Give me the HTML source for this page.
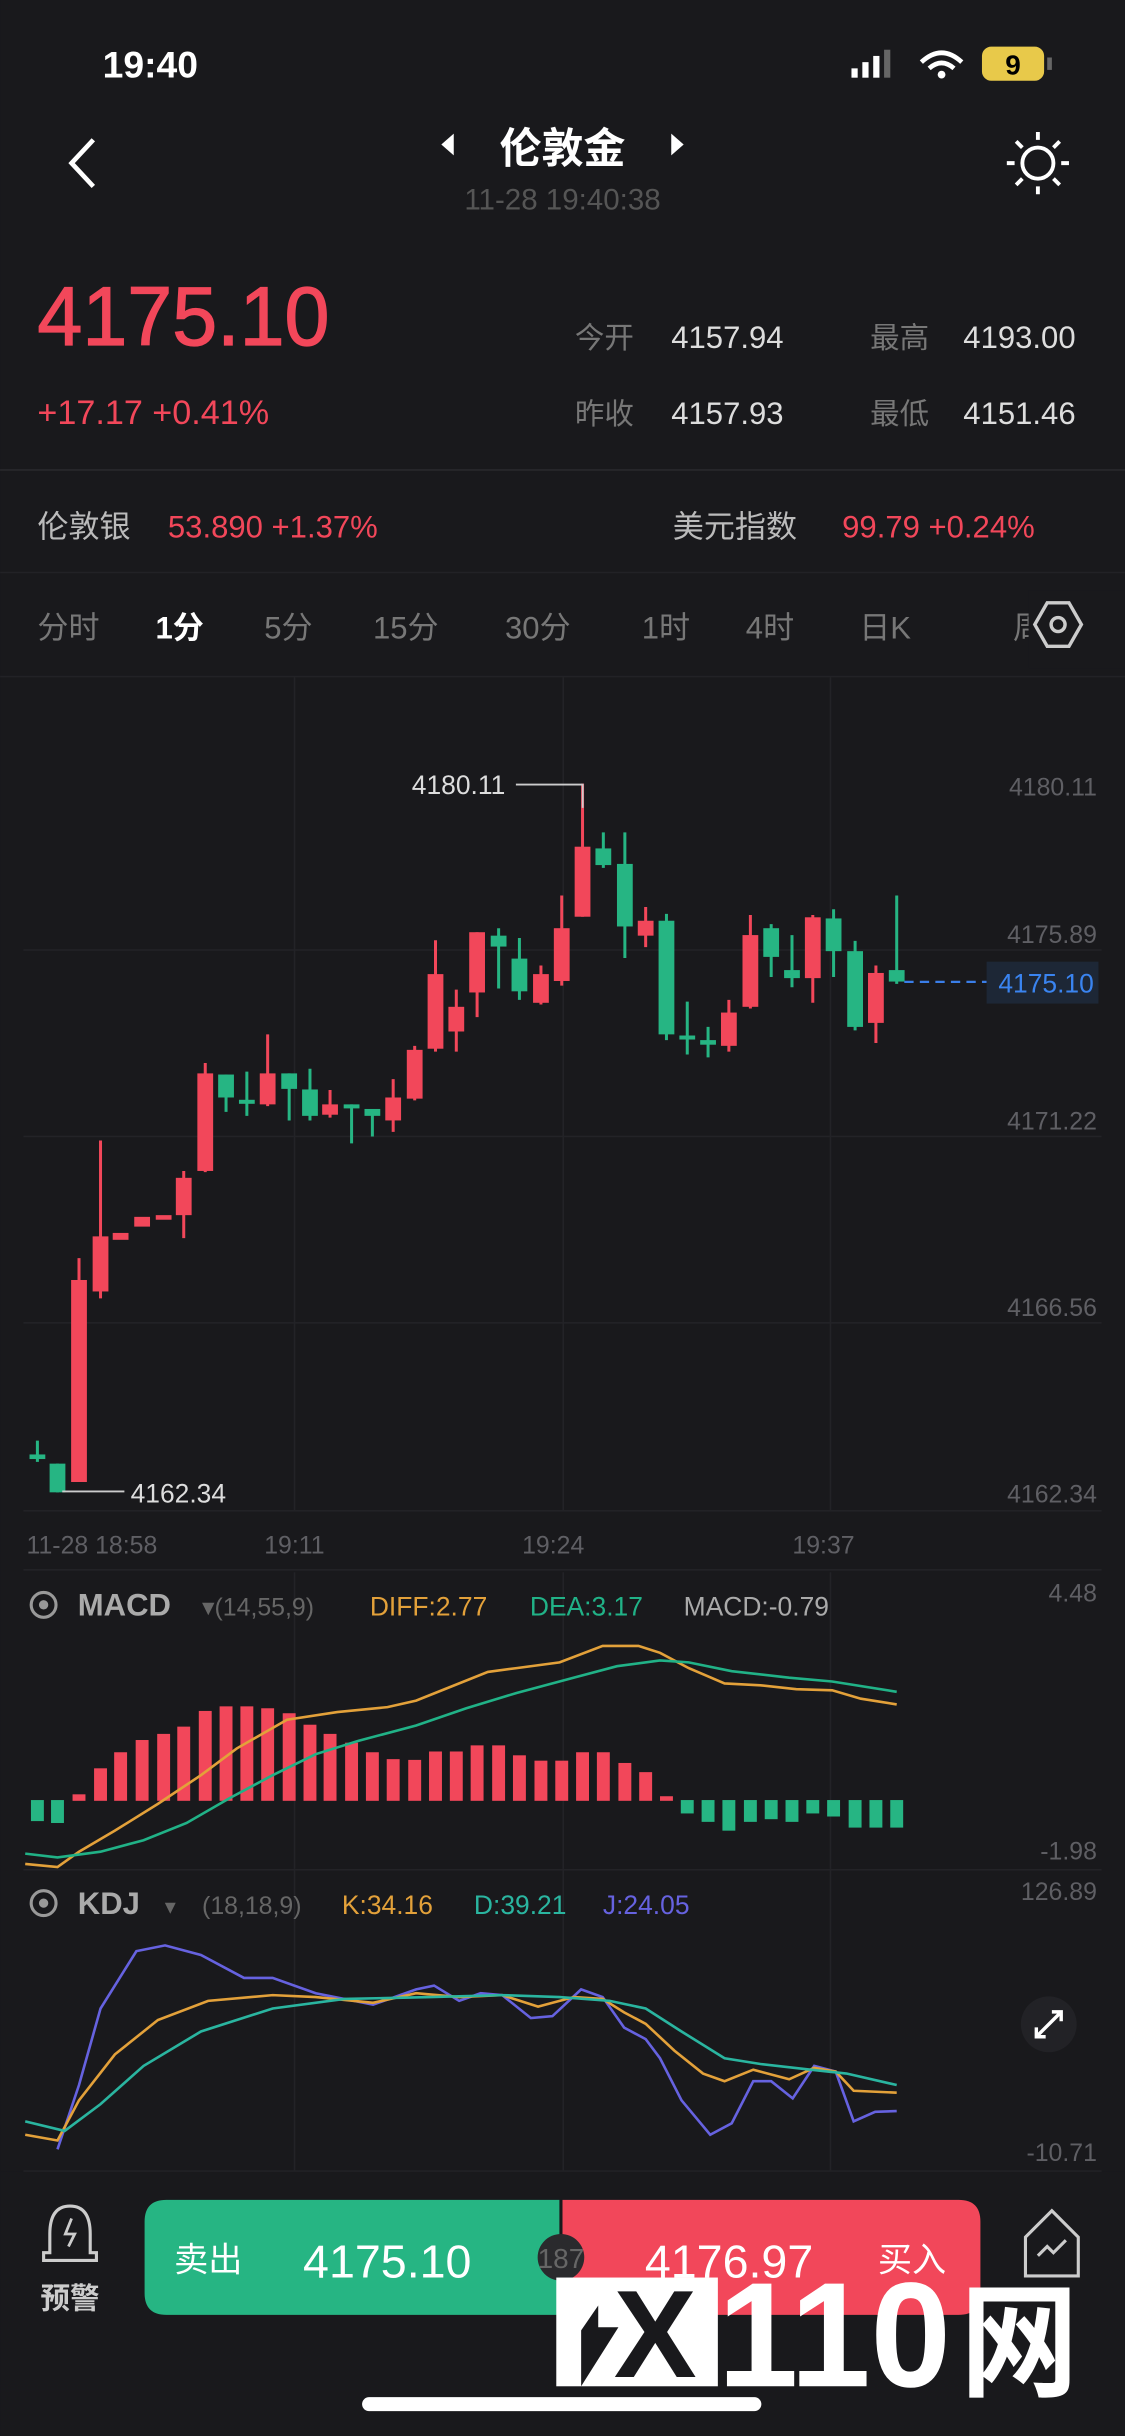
<!DOCTYPE html>
<html><head><meta charset="utf-8"><style>
html,body{margin:0;padding:0;background:#19191c;}
svg{display:block;}
text{font-family:"Liberation Sans","Noto Sans CJK SC",sans-serif;}
</style></head><body>
<svg width="1125" height="2436" viewBox="0 0 724 1568" xmlns="http://www.w3.org/2000/svg">
<rect width="724" height="1568" fill="#19191c"/>
<!-- status bar -->
<text x="66" y="50" font-size="24" font-weight="bold" fill="#fff">19:40</text>
<rect x="548" y="44" width="4" height="6" fill="#fff"/><rect x="555" y="40" width="4" height="10" fill="#fff"/><rect x="562" y="36" width="4" height="14" fill="#fff"/><rect x="569" y="32" width="4" height="18" fill="#666"/>
<path d="M593 40 Q606 28 619 40" stroke="#fff" stroke-width="3" fill="none"/><path d="M598 44 Q606 37 614 44" stroke="#fff" stroke-width="3" fill="none"/><circle cx="606" cy="48" r="2.5" fill="#fff"/>
<rect x="632" y="30" width="40" height="22" rx="6" fill="#e8c94a"/><text x="652" y="48" font-size="18" font-weight="bold" fill="#000" text-anchor="middle">9</text><rect x="674" y="37" width="3" height="8" fill="#666"/>
<!-- header -->
<path d="M60 90 L46 105 L60 120" stroke="#fff" stroke-width="3" fill="none"/>
<text x="362" y="105" font-size="27" font-weight="bold" fill="#fff" text-anchor="middle">伦敦金</text>
<path d="M292 86 L284 93 L292 100Z M432 86 L440 93 L432 100Z" fill="#fff"/>
<text x="362" y="135" font-size="19" fill="#555" text-anchor="middle">11-28 19:40:38</text>
<circle cx="668" cy="105" r="10" stroke="#fff" stroke-width="2.5" fill="none"/>
<g stroke="#fff" stroke-width="2.5"><path d="M668 85v5M668 120v5M648 105h5M683 105h5M654 91l4 4M678 115l4 4M654 119l4-4M678 95l4-4"/></g>
<!-- price -->
<text x="24" y="222" font-size="54" fill="#f2475a" stroke="#f2475a" stroke-width="0.8" textLength="188" lengthAdjust="spacingAndGlyphs">4175.10</text>
<text x="24" y="273" font-size="22" fill="#f2475a">+17.17  +0.41%</text>
<text x="370" y="224" font-size="19" fill="#777">今开</text><text x="432" y="224" font-size="20" fill="#ddd">4157.94</text>
<text x="560" y="224" font-size="19" fill="#777">最高</text><text x="620" y="224" font-size="20" fill="#ddd">4193.00</text>
<text x="370" y="273" font-size="19" fill="#777">昨收</text><text x="432" y="273" font-size="20" fill="#ddd">4157.93</text>
<text x="560" y="273" font-size="19" fill="#777">最低</text><text x="620" y="273" font-size="20" fill="#ddd">4151.46</text>
<rect x="0" y="302" width="724" height="1" fill="#2a2a2e"/>
<text x="24" y="346" font-size="20" fill="#bbb">伦敦银</text><text x="108" y="346" font-size="20" fill="#f2475a">53.890  +1.37%</text>
<text x="433" y="346" font-size="20" fill="#bbb">美元指数</text><text x="542" y="346" font-size="20" fill="#f2475a">99.79  +0.24%</text>
<rect x="0" y="368" width="724" height="1" fill="#222226"/>
<g font-size="20" fill="#777"><text x="24" y="411">分时</text><text x="100" y="411" fill="#fff" font-weight="bold">1分</text><text x="170" y="411">5分</text><text x="240" y="411">15分</text><text x="325" y="411">30分</text><text x="413" y="411">1时</text><text x="480" y="411">4时</text><text x="553" y="411">日K</text><text x="652" y="411">周</text></g>
<rect x="662" y="380" width="62" height="50" fill="#19191c"/>
<path d="M674 388 L688 388 L696 402 L688 416 L674 416 L666 402Z" stroke="#ccc" stroke-width="2.2" fill="none"/><circle cx="681" cy="402" r="4.5" stroke="#ccc" stroke-width="2.2" fill="none"/>
<rect x="0" y="435" width="724" height="1" fill="#222226"/>
<!-- grid -->
<g fill="#232327"><rect x="15" y="611" width="694" height="1"/><rect x="15" y="731" width="694" height="1"/><rect x="15" y="851" width="694" height="1"/><rect x="15" y="972" width="694" height="1"/>
<rect x="189" y="436" width="1" height="536"/><rect x="362" y="436" width="1" height="536"/><rect x="534" y="436" width="1" height="536"/>
<rect x="189" y="1012" width="1" height="385"/><rect x="362" y="1012" width="1" height="385"/><rect x="534" y="1012" width="1" height="385"/>
<rect x="15" y="1010" width="694" height="1"/><rect x="15" y="1203" width="694" height="1"/><rect x="15" y="1397" width="694" height="1"/></g>
<g font-size="16" fill="#5f5f64" text-anchor="end"><text x="706" y="512">4180.11</text><text x="706" y="607">4175.89</text><text x="706" y="727">4171.22</text><text x="706" y="847">4166.56</text><text x="706" y="967">4162.34</text>
<text x="706" y="1031">4.48</text><text x="706" y="1197">-1.98</text><text x="706" y="1223">126.89</text><text x="706" y="1391">-10.71</text></g>
<g font-size="16" fill="#5f5f64"><text x="17" y="1000">11-28 18:58</text><text x="170" y="1000">19:11</text><text x="336" y="1000">19:24</text><text x="510" y="1000">19:37</text></g>
<!-- candles in zoom coords -->
<g transform="translate(0,418.3) scale(0.4617,0.3694)">
<g fill="#f2475a" stroke="#f2475a">
<path d="M110 1060V1450M140 855V1130M256 908V1025M286 720V910M373 670V795M460 767V815M548 748V840M578 690V785M607 506V700M636 592V700M665 492V640M754 550V618M783 428V585M812 233V465M900 448V518M1016 610V700M1046 462V625M1133 462V615M1221 550V685" stroke-width="3" vector-effect="non-scaling-stroke"/>
<rect x="99" y="1098" width="22" height="352" stroke="none"/><rect x="129" y="1022" width="22" height="96" stroke="none"/><rect x="157" y="1016" width="22" height="12" stroke="none"/><rect x="187" y="988" width="22" height="17" stroke="none"/><rect x="217" y="985" width="22" height="8" stroke="none"/><rect x="245" y="920" width="22" height="65" stroke="none"/><rect x="275" y="738" width="22" height="170" stroke="none"/><rect x="362" y="738" width="22" height="54" stroke="none"/><rect x="449" y="792" width="22" height="18" stroke="none"/><rect x="537" y="780" width="22" height="40" stroke="none"/><rect x="567" y="697" width="22" height="85" stroke="none"/><rect x="596" y="565" width="22" height="130" stroke="none"/><rect x="625" y="622" width="22" height="43" stroke="none"/><rect x="654" y="492" width="22" height="105" stroke="none"/><rect x="743" y="565" width="22" height="50" stroke="none"/><rect x="772" y="485" width="22" height="92" stroke="none"/><rect x="801" y="343" width="22" height="122" stroke="none"/><rect x="889" y="472" width="22" height="26" stroke="none"/><rect x="1005" y="632" width="22" height="58" stroke="none"/><rect x="1035" y="497" width="22" height="125" stroke="none"/><rect x="1122" y="466" width="22" height="106" stroke="none"/><rect x="1210" y="563" width="22" height="87" stroke="none"/>
</g>
<g fill="#26b583" stroke="#26b583">
<path d="M52 1378V1415M80 1418V1468M315 740V805M344 735V812M403 738V820M432 730V820M490 792V860M519 800V848M695 485V590M724 502V610M841 318V380M871 318V537M929 460V680M958 613V705M987 657V710M1075 478V570M1104 497V588M1162 452V570M1192 507V663M1250 428V582" stroke-width="3" vector-effect="non-scaling-stroke"/>
<rect x="41" y="1402" width="22" height="8" stroke="none"/><rect x="69" y="1418" width="22" height="50" stroke="none"/><rect x="304" y="740" width="22" height="40" stroke="none"/><rect x="333" y="784" width="22" height="7" stroke="none"/><rect x="392" y="738" width="22" height="27" stroke="none"/><rect x="421" y="766" width="22" height="46" stroke="none"/><rect x="479" y="792" width="22" height="7" stroke="none"/><rect x="508" y="800" width="22" height="12" stroke="none"/><rect x="684" y="498" width="22" height="19" stroke="none"/><rect x="713" y="538" width="22" height="57" stroke="none"/><rect x="830" y="346" width="22" height="29" stroke="none"/><rect x="860" y="373" width="22" height="109" stroke="none"/><rect x="918" y="472" width="22" height="198" stroke="none"/><rect x="947" y="672" width="22" height="7" stroke="none"/><rect x="976" y="680" width="22" height="8" stroke="none"/><rect x="1064" y="485" width="22" height="50" stroke="none"/><rect x="1093" y="558" width="22" height="14" stroke="none"/><rect x="1151" y="468" width="22" height="57" stroke="none"/><rect x="1181" y="525" width="22" height="132" stroke="none"/><rect x="1239" y="558" width="22" height="20" stroke="none"/>
</g>
</g>
<!-- annotations -->
<path d="M332 505H375V520" stroke="#ccc" stroke-width="1.2" fill="none"/>
<text x="265" y="511" font-size="17" fill="#ddd">4180.11</text>
<path d="M40 960H80" stroke="#ccc" stroke-width="1.2"/>
<text x="84" y="967" font-size="17" fill="#ddd">4162.34</text>
<path d="M582 632H635" stroke="#3a7ee8" stroke-width="1.5" stroke-dasharray="6,4"/>
<rect x="635" y="619" width="72" height="27" fill="#1d2736"/>
<text x="704" y="639" font-size="17" fill="#3a84f0" text-anchor="end">4175.10</text>
<!-- MACD / KDJ headers -->
<circle cx="28" cy="1033" r="8" stroke="#999" stroke-width="2" fill="none"/><circle cx="28" cy="1033" r="3" fill="#999"/>
<text x="50" y="1040" font-size="20" font-weight="bold" fill="#aaa">MACD</text>
<text x="130" y="1040" font-size="16" fill="#666">▾(14,55,9)</text>
<text x="238" y="1040" font-size="17" fill="#e3a13a">DIFF:2.77</text>
<text x="341" y="1040" font-size="17" fill="#21b287">DEA:3.17</text>
<text x="440" y="1040" font-size="17" fill="#aaa">MACD:-0.79</text>
<circle cx="28" cy="1225" r="8" stroke="#999" stroke-width="2" fill="none"/><circle cx="28" cy="1225" r="3" fill="#999"/>
<text x="50" y="1232" font-size="20" font-weight="bold" fill="#aaa">KDJ</text>
<text x="106" y="1232" font-size="14" fill="#666">▾</text>
<text x="130" y="1232" font-size="16" fill="#666">(18,18,9)</text>
<text x="220" y="1232" font-size="17" fill="#e3a13a">K:34.16</text>
<text x="305" y="1232" font-size="17" fill="#2ab5a0">D:39.21</text>
<text x="388" y="1232" font-size="17" fill="#6662e0">J:24.05</text>
<circle cx="675" cy="1303" r="18" fill="#222226"/>
<path d="M667 1311L683 1295M677 1295H683V1301M667 1305V1311H673" stroke="#fff" stroke-width="2.2" fill="none"/>
<!-- MACD/KDJ plot -->
<g transform="translate(0,997.4) scale(0.4617,0.2462)">
<g fill="#f2475a"><rect x="101" y="640" width="18" height="17"/><rect x="131" y="572" width="18" height="85"/><rect x="159" y="530" width="18" height="127"/><rect x="189" y="498" width="18" height="159"/><rect x="219" y="482" width="18" height="175"/><rect x="247" y="463" width="18" height="194"/><rect x="277" y="422" width="18" height="235"/><rect x="306" y="410" width="18" height="247"/><rect x="335" y="410" width="18" height="247"/><rect x="364" y="415" width="18" height="242"/><rect x="394" y="428" width="18" height="229"/><rect x="423" y="458" width="18" height="199"/><rect x="451" y="482" width="18" height="175"/><rect x="481" y="505" width="18" height="152"/><rect x="510" y="530" width="18" height="127"/><rect x="539" y="548" width="18" height="109"/><rect x="569" y="550" width="18" height="107"/><rect x="598" y="528" width="18" height="129"/><rect x="627" y="528" width="18" height="129"/><rect x="656" y="512" width="18" height="145"/><rect x="686" y="512" width="18" height="145"/><rect x="715" y="538" width="18" height="119"/><rect x="745" y="552" width="18" height="105"/><rect x="774" y="552" width="18" height="105"/><rect x="803" y="530" width="18" height="127"/><rect x="832" y="530" width="18" height="127"/><rect x="862" y="558" width="18" height="99"/><rect x="891" y="582" width="18" height="75"/><rect x="920" y="645" width="18" height="12"/></g>
<g fill="#26b583"><rect x="43" y="655" width="18" height="55"/><rect x="71" y="655" width="18" height="60"/><rect x="949" y="655" width="18" height="35"/><rect x="978" y="655" width="18" height="57"/><rect x="1007" y="655" width="18" height="80"/><rect x="1037" y="655" width="18" height="57"/><rect x="1066" y="655" width="18" height="50"/><rect x="1095" y="655" width="18" height="57"/><rect x="1124" y="655" width="18" height="35"/><rect x="1153" y="655" width="18" height="43"/><rect x="1183" y="655" width="18" height="72"/><rect x="1212" y="655" width="18" height="72"/><rect x="1241" y="655" width="18" height="72"/></g>
<g fill="none" stroke-width="2.6" vector-effect="non-scaling-stroke">
<polyline vector-effect="non-scaling-stroke" stroke="#e3a13a" points="35,822 80,830 110,790 160,735 220,665 280,590 330,520 400,445 470,425 540,412 580,395 620,365 680,320 720,310 780,295 840,252 890,252 920,270 960,310 1010,350 1060,355 1110,365 1160,368 1200,390 1250,405"/>
<polyline vector-effect="non-scaling-stroke" stroke="#21b287" points="35,795 80,805 140,790 200,760 260,715 320,650 380,590 440,535 500,500 580,460 650,415 720,375 800,335 860,305 920,290 960,295 1020,318 1100,335 1160,345 1250,372"/>
<polyline vector-effect="non-scaling-stroke" stroke="#6662e0" points="80,1568 110,1400 140,1200 190,1050 230,1035 280,1060 340,1120 380,1120 440,1160 520,1190 580,1150 605,1140 640,1180 670,1160 700,1165 740,1225 770,1220 810,1150 840,1170 870,1250 900,1280 920,1330 950,1440 990,1530 1020,1500 1050,1390 1075,1390 1105,1435 1135,1350 1165,1365 1190,1495 1220,1470 1250,1468"/>
<polyline vector-effect="non-scaling-stroke" stroke="#e3a13a" points="35,1530 80,1545 110,1440 160,1320 220,1230 290,1180 380,1165 440,1170 520,1185 580,1160 640,1170 700,1165 750,1195 800,1170 840,1175 870,1210 900,1240 940,1310 980,1370 1010,1390 1050,1360 1100,1385 1135,1355 1165,1365 1190,1415 1250,1420"/>
<polyline vector-effect="non-scaling-stroke" stroke="#2ab5a0" points="35,1495 90,1520 140,1450 200,1350 280,1260 380,1200 480,1175 600,1170 700,1165 780,1170 850,1180 900,1200 950,1260 1010,1330 1060,1345 1130,1360 1180,1370 1250,1400"/>
</g>
</g>
<rect x="0" y="1398" width="724" height="170" fill="#19191c"/>
<!-- bottom bar -->
<path d="M32 1450V1438Q32 1420 45 1420Q58 1420 58 1438V1450H62V1455H28V1450Z" stroke="#ccc" stroke-width="2" fill="none"/>
<path d="M46 1428L42 1438H48L44 1446" stroke="#ccc" stroke-width="1.8" fill="none"/>
<text x="45" y="1486" font-size="19" fill="#ccc" text-anchor="middle" font-weight="bold">预警</text>
<path d="M93 1416H360V1490H107Q93 1490 93 1476V1430Q93 1416 107 1416Z" fill="#26b583"/>
<path d="M362 1416H617Q631 1416 631 1430V1476Q631 1490 617 1490H362Z" fill="#f2475a"/>
<text x="112" y="1462" font-size="22" fill="#fff">卖出</text>
<text x="195" y="1466" font-size="30" fill="#fff">4175.10</text>
<text x="415" y="1466" font-size="30" fill="#fff">4176.97</text>
<text x="565" y="1462" font-size="22" fill="#fff">买入</text>
<circle cx="361" cy="1453" r="15" fill="#2a2a2d"/>
<text x="361" y="1460" font-size="18" fill="#666" text-anchor="middle">187</text>
<path d="M660 1440L677 1423L694 1440V1465H660Z" stroke="#ccc" stroke-width="2" fill="none"/>
<path d="M668 1452L674 1446L678 1450L686 1442" stroke="#ccc" stroke-width="2" fill="none"/>
<!-- watermark -->
<rect x="358" y="1466" width="104" height="70" fill="#fff"/>
<path d="M374 1536L398 1498H385V1484L374 1500Z" fill="#19191c"/>
<text x="395" y="1530" font-size="80" font-weight="bold" fill="#19191c">X</text>
<text x="462" y="1536" font-size="96" font-weight="bold" fill="#fff" textLength="150" lengthAdjust="spacingAndGlyphs">110</text>
<text x="618" y="1536" font-size="80" font-weight="bold" fill="#fff" textLength="76" lengthAdjust="spacingAndGlyphs">网</text>
<rect x="233" y="1543" width="257" height="9" rx="4.5" fill="#fff"/>
</svg>
</body></html>
